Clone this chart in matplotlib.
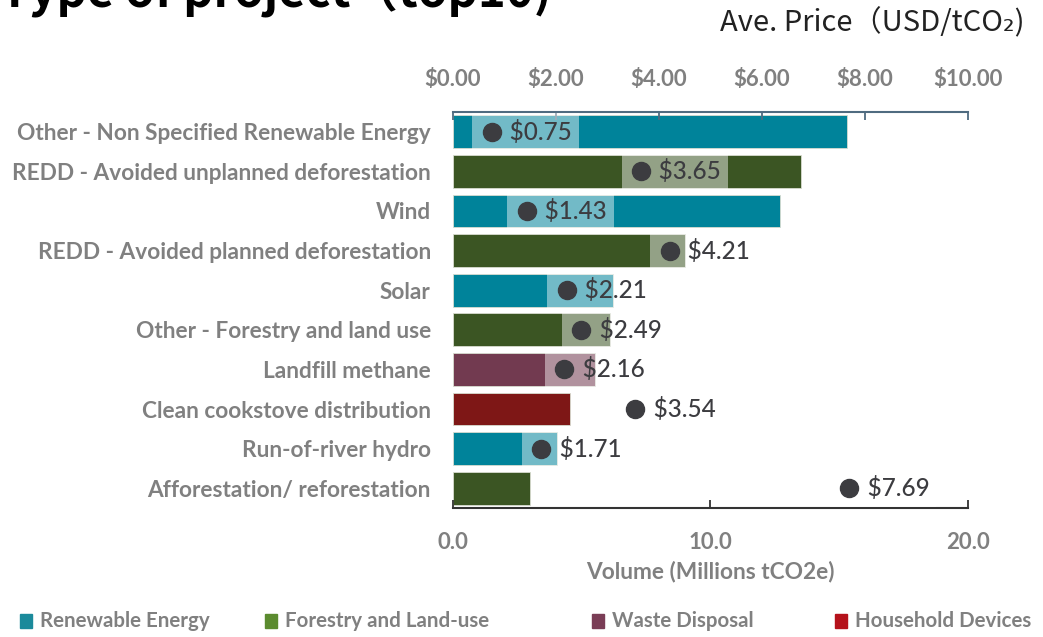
import matplotlib
matplotlib.use('Agg')
import matplotlib.pyplot as plt
from matplotlib.patches import Rectangle

# Data
projects = ['Other - Non Specified Renewable Energy', 'REDD - Avoided unplanned deforestation',
            'Wind', 'REDD - Avoided planned deforestation', 'Solar',
            'Other - Forestry and land use', 'Landfill methane', 'Clean cookstove distribution',
            'Run-of-river hydro', 'Afforestation/ reforestation']
sectors = ['Renewable Energy', 'Forestry and Land-use', 'Renewable Energy', 'Forestry and Land-use',
           'Renewable Energy', 'Forestry and Land-use', 'Waste Disposal', 'Household Devices',
           'Renewable Energy', 'Forestry and Land-use']
volume = [15.3, 13.5, 12.7, 9.0, 6.2, 6.1, 5.5, 4.55, 4.05, 3.0]
price = [0.75, 3.65, 1.43, 4.21, 2.21, 2.49, 2.16, 3.54, 1.71, 7.69]

legend_names = ['Renewable Energy', 'Forestry and Land-use', 'Waste Disposal', 'Household Devices']
bar_colors = {'Renewable Energy': '#00839a', 'Forestry and Land-use': '#3b5523',
              'Waste Disposal': '#723a50', 'Household Devices': '#7e1716'}
legend_colors = {'Renewable Energy': '#1b8a9b', 'Forestry and Land-use': '#5b8b2f',
                 'Waste Disposal': '#7a3d56', 'Household Devices': '#b5121b'}

grey = '#808080'
font = 'Lato'

fig = plt.figure(figsize=(10.43, 6.37), dpi=100)
ax1 = fig.add_axes([0.4343, 0.2025, 0.4938, 0.6217])
ax2 = ax1.twiny()

ypos = list(range(len(projects)))
ax1.barh(ypos, volume, height=0.83, color=[bar_colors[s] for s in sectors],
         edgecolor='#d8dcd0', linewidth=0.6)
ax1.set_ylim(len(projects) - 0.5, -0.5)
ax1.set_xlim(0, 20)
ax1.set_xticks([0, 10, 20])
ax1.set_xticklabels(['0.0', '10.0', '20.0'])
ax1.set_yticks(ypos)
ax1.set_yticklabels(projects)
ax1.tick_params(axis='y', length=0, pad=16, labelsize=16.3, labelcolor=grey)
ax1.tick_params(axis='x', direction='in', length=6, width=1.3, color='#333333',
                pad=17, labelsize=16, labelcolor=grey)
for lbl in ax1.get_yticklabels() + ax1.get_xticklabels():
    lbl.set_fontfamily(font)
    lbl.set_fontweight('bold')
ax1.set_xlabel('Volume (Millions tCO2e)', fontsize=16.3, color=grey, fontweight='bold',
               fontfamily=font, labelpad=6)
for side in ['left', 'right', 'top']:
    ax1.spines[side].set_visible(False)
ax1.spines['bottom'].set_color('#333333')
ax1.spines['bottom'].set_linewidth(1.5)

# price axis on top
ax2.set_xlim(0, 10)
ax2.set_xticks([0, 2, 4, 6, 8, 10])
ax2.set_xticklabels(['$%.2f' % v for v in [0, 2, 4, 6, 8, 10]])
ax2.tick_params(axis='x', direction='in', length=6, width=1.3, color='#4f6b80',
                pad=16, labelsize=16, labelcolor=grey)
for lbl in ax2.get_xticklabels():
    lbl.set_fontfamily(font)
    lbl.set_fontweight('bold')
for side in ['left', 'right', 'bottom']:
    ax2.spines[side].set_visible(False)
ax2.spines['top'].set_color('#4f6b80')
ax2.spines['top'].set_linewidth(1.5)

for y, p in zip(ypos, price):
    ax2.annotate('     $%.2f' % p, xy=(p, y), xytext=(-9, 0), textcoords='offset points',
                 ha='left', va='center', fontsize=17.5, color='#3c3c40', fontfamily=font,
                 fontweight='medium',
                 bbox=dict(boxstyle='square,pad=0.28', fc='white', ec='none', alpha=0.45),
                 zorder=3)
    ax2.plot(p, y, 'o', color='#3c3c40', markersize=13, zorder=4)

# title (cut off at top, as in the source) and price unit
fig.text(0.0, 1 - 7 / 637, 'Type of project（top10)', fontsize=34, fontweight='bold',
         family=['Noto Sans CJK JP', 'DejaVu Sans'], color='black', ha='left', va='baseline')
fig.text(1025 / 1043, 1 - 23 / 637, 'Ave. Price（USD/tCO₂)', fontsize=21,
         family=['Noto Sans CJK JP', 'DejaVu Sans'], color='#222222', ha='right', va='center')

# legend
legend_x = [20, 265, 592, 835]
for name, x in zip(legend_names, legend_x):
    fig.patches.append(Rectangle((x / 1043, 1 - 628 / 637), 12 / 1043, 14 / 637,
                                 transform=fig.transFigure, color=legend_colors[name]))
    fig.text((x + 20) / 1043, 1 - 621 / 637, name, fontsize=14.8, color=grey,
             fontfamily=font, fontweight='bold', va='center', ha='left')

fig.savefig('out.png', dpi=100)
